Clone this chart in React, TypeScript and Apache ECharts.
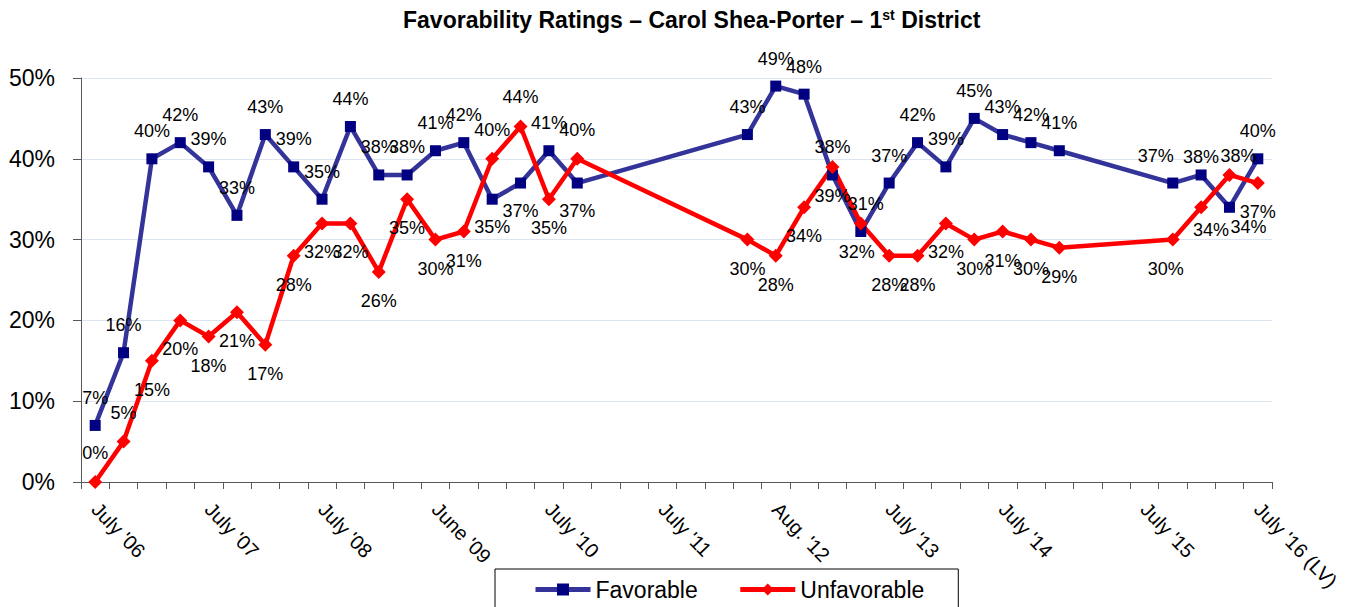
import React, { useEffect, useRef } from "react";
import * as echarts from "echarts";

const categories: string[] = [
  "July '06", "", "", "", "July '07", "", "", "", "July '08", "", "", "",
  "June '09", "", "", "", "July '10", "", "", "", "July '11", "", "", "",
  "Aug. '12", "", "", "", "July '13", "", "", "", "July '14", "", "", "",
  "", "July '15", "", "", "", "July '16 (LV)",
];

const favorable: (number | null)[] = [
  7, 16, 40, 42, 39, 33, 43, 39, 35, 44, 38, 38, 41, 42, 35, 37, 41, 37,
  null, null, null, null, null,
  43, 49, 48, 38, 31, 37, 42, 39, 45, 43, 42, 41,
  null, null, null,
  37, 38, 34, 40,
];

const unfavorable: (number | null)[] = [
  0, 5, 15, 20, 18, 21, 17, 28, 32, 32, 26, 35, 30, 31, 40, 44, 35, 40,
  null, null, null, null, null,
  30, 28, 34, 39, 32, 28, 28, 32, 30, 31, 30, 29,
  null, null, null,
  30, 34, 38, 37,
];

// indices where the default label side is flipped
const favLabelBelow = [14, 15, 17, 40];
const unfavLabelAbove = [0, 1, 14, 15, 17, 40];

// small manual nudges of individual data labels (index -> [dx, dy])
const favLabelNudge: Record<number, [number, number]> = {
  27: [5, 0],
  38: [-17, 0],
  39: [0, 10],
  40: [19, -8],
};
const unfavLabelNudge: Record<number, [number, number]> = {
  27: [-4, 0],
  38: [-7, 0],
  39: [10, -6],
  40: [9, 10],
};

const yTicks = { min: 0, max: 50, interval: 10 };

const FONT = "'Liberation Sans', Arial, sans-serif";

export default function App() {
  const ref = useRef<HTMLDivElement>(null);
  useEffect(() => {
    if (!ref.current) return;
    const chart = echarts.init(ref.current, undefined, { renderer: "svg" });

    const mk = (
      vals: (number | null)[],
      def: "top" | "bottom",
      flip: number[],
      nudge: Record<number, [number, number]>
    ) =>
      vals.map((v, i) =>
        v === null
          ? null
          : {
              value: v,
              label: {
                position: flip.includes(i) ? (def === "top" ? "bottom" : "top") : def,
                offset: nudge[i] || [0, 0],
              },
            }
      );

    const labelStyle = {
      show: true,
      formatter: "{c}%",
      fontFamily: FONT,
      fontSize: 18,
      lineHeight: 18,
      color: "#000",
      distance: 13,
    };

    chart.setOption({
      animation: false,
      backgroundColor: "#fff",
      title: {
        text: "{a|Favorability Ratings – Carol Shea-Porter – 1}{s|st}{a| District}",
        left: 403,
        top: 8,
        padding: 0,
        textStyle: {
          rich: {
            a: { fontFamily: FONT, fontWeight: "bold", fontSize: 23, lineHeight: 23, color: "#000" },
            s: { fontFamily: FONT, fontWeight: "bold", fontSize: 14, lineHeight: 14, color: "#000", verticalAlign: "top" },
          },
        },
      },
      legend: {
        left: 495,
        top: 569,
        padding: [9, 34, 14, 38],
        itemGap: 40,
        itemWidth: 55,
        itemHeight: 15,
        borderColor: "#000",
        borderWidth: 1,
        selectedMode: false,
        lineStyle: { width: 5 },
        textStyle: { fontFamily: FONT, fontSize: 23, color: "#000" },
        data: ["Favorable", "Unfavorable"],
      },
      grid: { left: 81, right: 79, top: 78, bottom: 125, containLabel: false },
      xAxis: {
        type: "category",
        data: categories,
        boundaryGap: true,
        axisLine: { lineStyle: { color: "#595959", width: 1 } },
        axisTick: { show: true, interval: 0, length: 7, lineStyle: { color: "#595959" } },
        axisLabel: {
          interval: 0,
          rotate: -46,
          margin: 24,
          fontFamily: FONT,
          fontSize: 20,
          color: "#000",
        },
        splitLine: { show: false },
      },
      yAxis: {
        type: "value",
        min: yTicks.min,
        max: yTicks.max,
        interval: yTicks.interval,
        axisLine: { show: true, lineStyle: { color: "#595959", width: 1 } },
        axisTick: { show: true, length: 8, lineStyle: { color: "#595959" } },
        axisLabel: {
          formatter: "{value}%",
          margin: 26,
          fontFamily: FONT,
          fontSize: 23,
          color: "#000",
        },
        splitLine: { show: true, lineStyle: { color: "#dbe4f0", width: 1 } },
      },
      series: [
        {
          name: "Favorable",
          type: "line",
          data: mk(favorable, "top", favLabelBelow, favLabelNudge),
          connectNulls: true,
          symbol: "rect",
          symbolSize: 11,
          lineStyle: { color: "#333399", width: 4.5 },
          itemStyle: { color: "#000080", borderWidth: 0 },
          label: { ...labelStyle, position: "top" },
          emphasis: { disabled: true },
        },
        {
          name: "Unfavorable",
          type: "line",
          data: mk(unfavorable, "bottom", unfavLabelAbove, unfavLabelNudge),
          connectNulls: true,
          symbol: "diamond",
          symbolSize: 14,
          lineStyle: { color: "#ff0000", width: 4.5 },
          itemStyle: { color: "#ff0000", borderWidth: 0 },
          label: { ...labelStyle, position: "bottom" },
          emphasis: { disabled: true },
        },
      ],
    });
    return () => chart.dispose();
  }, []);

  return (
    <div
      ref={ref}
      style={{ position: "fixed", left: 0, top: 0, width: 1351, height: 607, background: "#fff" }}
    />
  );
}
